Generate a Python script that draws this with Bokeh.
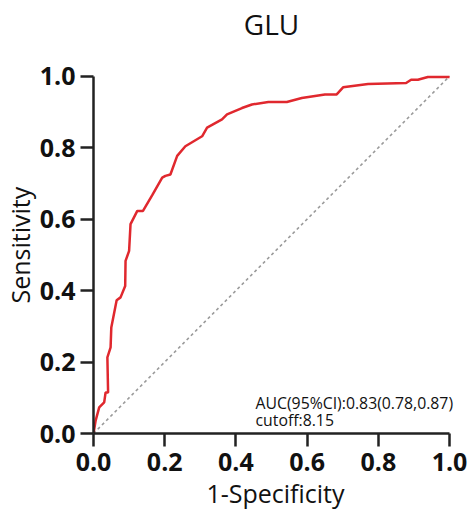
from bokeh.plotting import figure
from bokeh.models import Range1d, FixedTicker, CustomJSTickFormatter, Title
from bokeh.core.properties import value
from bokeh.embed import file_html
from bokeh.resources import INLINE

title_text = "GLU"
x_label = "1-Specificity"
y_label = "Sensitivity"
auc_text = "AUC(95%CI):0.83(0.78,0.87)"
cutoff_text = "cutoff:8.15"
tick_values = [0.0, 0.2, 0.4, 0.6, 0.8, 1.0]

fpr = [0.0, 0.006, 0.016, 0.030, 0.034, 0.041, 0.039, 0.048, 0.050, 0.065, 0.076,
       0.089, 0.090, 0.100, 0.104, 0.123, 0.139, 0.165, 0.193, 0.202, 0.216, 0.235,
       0.258, 0.305, 0.319, 0.361, 0.375, 0.417, 0.445, 0.491, 0.529, 0.543, 0.585,
       0.650, 0.683, 0.701, 0.771, 0.878, 0.892, 0.911, 0.939, 1.0]
tpr = [0.0, 0.036, 0.073, 0.087, 0.115, 0.115, 0.213, 0.241, 0.297, 0.373, 0.381,
       0.413, 0.483, 0.511, 0.586, 0.623, 0.623, 0.667, 0.716, 0.721, 0.725, 0.777,
       0.804, 0.832, 0.856, 0.879, 0.893, 0.911, 0.921, 0.928, 0.928, 0.928, 0.939,
       0.949, 0.949, 0.969, 0.978, 0.981, 0.990, 0.990, 0.998, 0.998]
diag = [0.0, 1.0]

FONT = "Open Sans"

# frame spans the canvas above the x axis; axes are bounded to 0..1
p = figure(width=469, height=512, output_backend="svg", toolbar_location=None,
           x_range=Range1d(0, 1.0223), y_range=Range1d(0, 1.212),
           title_location=None,
           min_border_left=91, min_border_right=12, min_border_top=0,
           min_border_bottom=79)

p.outline_line_color = None
p.grid.visible = False
p.background_fill_color = "white"
p.border_fill_color = "white"

for ax in (p.xaxis[0], p.yaxis[0]):
    ax.bounds = (0, 1)
    ax.ticker = FixedTicker(ticks=tick_values)
    ax.formatter = CustomJSTickFormatter(code="return tick.toFixed(1);")
    ax.axis_line_width = 2.5
    ax.axis_line_color = "#222222"
    ax.major_tick_line_width = 2.5
    ax.major_tick_line_color = "#222222"
    ax.major_tick_out = 13
    ax.major_tick_in = 0
    ax.minor_tick_line_color = None
    ax.major_label_text_font = FONT
    ax.major_label_text_font_size = "25px"
    ax.major_label_text_font_style = "bold"
    ax.major_label_text_color = "#111111"
    ax.axis_label_text_font = FONT
    ax.axis_label_text_font_size = "25px"
    ax.axis_label_text_font_style = "normal"
    ax.axis_label_text_color = "#111111"

p.xaxis[0].axis_label = x_label
p.xaxis[0].major_label_standoff = 6
p.yaxis[0].major_label_standoff = 5
p.xaxis[0].axis_label_standoff = 2

y_title = Title(text=y_label, align="left", offset=130, standoff=0,
                vertical_align="bottom", text_font=FONT,
                text_font_size="25px", text_font_style="normal",
                text_color="#111111")
p.add_layout(y_title, "left")

p.line(diag, diag, line_color="#9a9a9a", line_width=1.6, line_dash="3 3")
p.line(fpr, tpr, line_color="#e0282e", line_width=2.5)

p.text(x=[0.5], y=[1.147], text=[title_text], text_font=value(FONT),
       text_font_size="28px", text_align="center", text_baseline="middle",
       text_color="#111111")
p.text(x=[0.455], y=[0.084], text=[auc_text], text_font=value(FONT),
       text_font_size="15.8px", text_baseline="middle", text_align="left",
       text_color="#111111")
p.text(x=[0.455], y=[0.039], text=[cutoff_text], text_font=value(FONT),
       text_font_size="15.8px", text_baseline="middle", text_align="left",
       text_color="#111111")

open("out.html", "w").write(file_html(p, INLINE))
